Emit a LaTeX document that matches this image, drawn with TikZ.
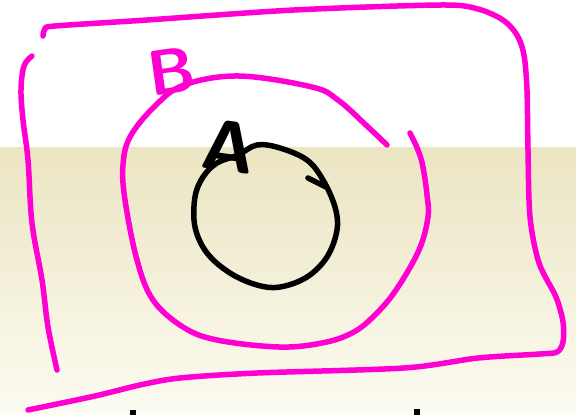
\documentclass[tikz,border=0pt]{standalone}
\usepackage{fontspec}
\usepackage{xcolor}
\usetikzlibrary{positioning,calc}
\definecolor{penpink}{RGB}{255,0,210}
\definecolor{sandtop}{RGB}{235,229,194}
\definecolor{sandbot}{RGB}{252,251,241}

\begin{document}
\begin{tikzpicture}[x=1pt, y=-1pt,
    pinkpen/.style={draw=penpink, line width=5.5pt, line cap=round, line join=round},
    blackpen/.style={draw=black, line width=5.5pt, line cap=round, line join=round},
    letter/.style={font=\sffamily\bfseries\fontsize{64}{64}\selectfont, inner sep=0pt}]
  \useasboundingbox (0,0) rectangle (576,415);
  \fill[white] (0,0) rectangle (576,147);
  \shade[top color=sandtop, bottom color=sandbot] (0,147) rectangle (576,415);
  % outer set, drawn in two strokes
  \draw[pinkpen] plot[smooth, tension=0.5] coordinates {(43,36) (45,29) (55,26) (147,20) (294,10)
    (441,5) (478,9) (503,20) (517,35) (524,55) (527,90) (528,150) (530,217) (539,263) (556,297)
    (563,322) (563,342) (557,352) (540,354) (478,358) (404,368) (257,373) (180,378) (140,385)
    (95,396) (28,410)};
  \draw[pinkpen] plot[smooth, tension=0.6] coordinates {(32,56) (24,66) (21,90) (23,120)
    (28,160) (32,223) (42,280) (48,327) (57,370)};
  % set B, left open at the top right
  \draw[pinkpen] plot[smooth, tension=0.6] coordinates {(387,145) (368,127) (338,100) (312,87)
    (239,76) (184,85) (154,107) (130,137) (123,165) (125,200) (137,260) (153,300) (183,327)
    (217,340) (279,347) (322,343) (352,333) (374,316) (396,290) (419,250) (428,217)
    (427,195) (423,167) (418,150) (410,133)};
  % set A
  \draw[blackpen] plot[smooth cycle, tension=0.6] coordinates {(238,155) (257,145) (280,148)
    (307,160) (323,180) (335,207) (337,230) (327,257) (307,277) (280,287) (257,285) (230,273)
    (207,253) (195,227) (195,197) (203,177) (217,163)};
  \coordinate (hookend) at (308,178);
  \coordinate (hookjoin) at (326,187);
  \draw[blackpen] (hookend) -- (hookjoin);
  % labels
  \node[letter, text=penpink, rotate=8] (labelB) at (172,71) {B};
  \node[letter, text=black, rotate=-8, font=\sffamily\bfseries\fontsize{72}{72}\selectfont] (labelA) at (229,146) {A};
  % tops of text cut off at the bottom
  \fill[black] (130,410) rectangle (136,415);
  \fill[black] (414,409) rectangle (420,415);
\end{tikzpicture}
\end{document}
